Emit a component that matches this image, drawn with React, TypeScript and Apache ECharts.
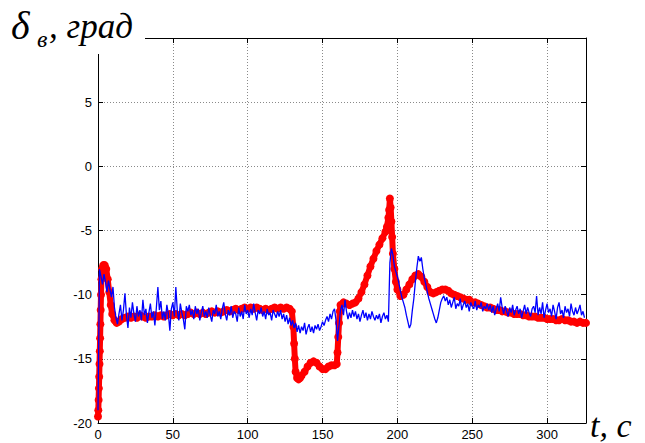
import React, { useEffect, useRef } from 'react';
import * as echarts from 'echarts';

// Blue series: sampled every 1 s starting at t = 0
const BLUE_START = 0;
const BLUE_STEP = 1;
const blueValues: number[] = [
  -19.0, -8.0, -8.6, -9.2, -8.4, -9.0, -9.8, -8.9, -9.6, -10.2,
  -9.4, -11.0, -11.8, -12.3, -11.5, -10.8, -12.0, -11.2, -9.9, -11.6,
  -12.6, -11.0, -11.8, -10.6, -11.5, -12.1, -10.9, -11.7, -11.2, -12.0,
  -10.4, -11.6, -11.1, -12.2, -11.4, -10.7, -11.8, -11.3, -12.4, -11.0,
  -9.4, -11.2, -10.5, -11.9, -11.3, -12.0, -10.8, -11.5, -12.8, -11.1,
  -10.6, -11.7, -9.4, -11.3, -12.0, -10.7, -11.4, -11.9, -12.7, -10.9,
  -11.3, -10.8, -11.6, -11.2, -11.9, -10.9, -11.5, -11.1, -12.0, -11.4,
  -10.9, -11.7, -11.3, -11.8, -11.0, -11.6, -12.1, -11.2, -11.5, -10.8,
  -11.7, -11.3, -11.9, -11.1, -10.6, -11.5, -12.0, -11.2, -11.6, -10.9,
  -11.8, -11.3, -11.5, -12.1, -11.0, -11.7, -11.3, -11.9, -10.8, -11.5,
  -11.2, -11.8, -11.1, -11.6, -10.7, -11.4, -12.0, -11.2, -11.5, -11.0,
  -11.7, -11.3, -11.9, -11.1, -11.6, -11.4, -12.0, -11.2, -11.5, -11.8,
  -11.3, -11.7, -11.2, -11.9, -11.5, -12.1, -11.6, -12.3, -11.8, -12.4,
  -12.0, -12.6, -12.2, -12.9, -12.4, -13.0, -12.5, -12.8, -12.2, -13.1,
  -12.6, -12.3, -12.9, -12.5, -13.0, -12.4, -12.7, -12.3, -12.8, -12.5,
  -12.1, -12.4, -12.0, -11.7, -12.1, -11.5, -11.9, -11.3, -11.1, -12.0,
  -13.6, -12.4, -11.2, -10.8, -11.6, -10.4, -11.3, -11.9, -11.4, -11.8,
  -11.2, -11.7, -11.3, -11.9, -11.5, -12.1, -11.6, -11.2, -11.8, -11.4,
  -12.0, -11.5, -11.9, -11.3, -11.7, -12.0, -11.6, -11.9, -11.5, -12.2,
  -11.7, -11.4, -11.9, -11.6, -12.1, -7.5, -6.4, -6.9, -7.8, -8.2,
  -8.6, -9.1, -9.7, -10.2, -10.6, -11.0, -11.6, -12.1, -12.6, -12.3,
  -11.2, -10.3, -9.0, -7.9, -7.0, -7.4, -7.1, -8.0, -8.7, -9.2,
  -9.8, -10.3, -10.7, -11.1, -11.5, -11.9, -12.2, -11.8, -11.2, -10.6,
  -10.3, -10.1, -10.5, -10.2, -10.8, -10.4, -11.0, -10.6, -10.2, -11.1,
  -10.7, -10.9, -10.3, -11.2, -10.8, -10.5, -11.0, -10.7, -11.3, -10.6,
  -10.9, -11.1, -10.5, -11.2, -10.8, -11.0, -10.6, -11.3, -10.9, -11.1,
  -10.7, -11.2, -10.8, -11.4, -10.9, -11.6, -11.1, -10.7, -11.3, -10.2,
  -11.0, -11.5, -10.9, -11.3, -11.7, -11.0, -11.4, -10.8, -11.6, -11.2,
  -10.9, -11.5, -11.1, -11.8, -11.3, -10.8, -11.5, -11.0, -11.4, -11.7,
  -11.1, -10.9, -11.4, -10.1, -11.6, -11.0, -11.5, -10.6, -11.8, -11.2,
  -10.7, -11.4, -11.1, -11.7, -10.8, -11.3, -11.9, -11.0, -10.6, -11.5,
  -11.2, -11.8, -10.9, -11.4, -11.1, -11.7, -10.7, -11.3, -11.6, -11.0,
  -11.5, -11.2, -10.8, -11.6, -11.3, -11.8,
];

// Red series: time stamps (s) and values (deg)
const redTimes: number[] = [
  0, 0.2, 0.4, 0.6, 0.8, 1, 1.2, 1.4, 1.6, 1.8,
  2, 2.3, 2.7, 3.5, 4.5, 5.5, 6.5, 7.5, 8.5, 9.5,
  11, 12.5, 14, 16, 18, 20, 22, 24, 26, 28,
  30, 32, 34, 36, 38, 40, 42, 44, 46, 48,
  50, 52, 54, 56, 58, 60, 62, 64, 66, 68,
  70, 72, 74, 76, 78, 80, 82, 84, 86, 88,
  90, 92, 94, 96, 98, 100, 102, 104, 106, 108,
  110, 112, 114, 116, 118, 120, 122, 124, 126, 128,
  129.5, 130.5, 131, 131.5, 132, 133, 134, 135, 136, 138,
  140, 142, 144, 146, 148, 150, 152, 154, 156, 158,
  159.5, 160, 160.5, 161, 161.5, 162, 164, 166, 168, 170,
  172, 174, 176, 178, 180, 182, 184, 186, 188, 190,
  192, 193, 194, 194.5, 195, 195.5, 196, 196.5, 197, 198,
  199, 200, 202, 204, 206, 208, 210, 212, 214, 216,
  218, 220, 222, 224, 226, 228, 230, 232, 234, 236,
  238, 240, 242, 244, 246, 248, 250, 252, 254, 256,
  258, 260, 262, 264, 266, 268, 270, 272, 274, 276,
  278, 280, 282, 284, 286, 288, 290, 292, 294, 296,
  298, 300, 302, 304, 306, 308, 310, 312, 314, 316,
  318, 320, 322, 324, 326,
];
const redValues: number[] = [
  -19.5, -19, -18.2, -17.3, -16.4, -15.4, -14.4, -13.4, -12.3, -11.2,
  -10, -8.8, -8.0, -7.7, -7.7, -8.0, -8.8, -9.8, -10.8, -11.5,
  -12.0, -12.2, -12.1, -11.9, -11.8, -11.7, -11.8, -11.7, -11.8, -11.6,
  -11.7, -11.8, -11.7, -11.7, -11.6, -11.7, -11.6, -11.7, -11.6, -11.5,
  -11.6, -11.5, -11.6, -11.5, -11.6, -11.5, -11.4, -11.5, -11.4, -11.5,
  -11.4, -11.5, -11.4, -11.3, -11.4, -11.3, -11.4, -11.3, -11.2, -11.3,
  -11.2, -11.1, -11.2, -11.1, -11.0, -11.1, -11.0, -11.1, -11.0, -11.1,
  -11.2, -11.1, -11.2, -11.1, -11.0, -11.1, -11.0, -11.1, -11.0, -11.1,
  -11.3, -12.5, -13.8, -15, -16, -16.5, -16.6, -16.5, -16.3, -16.0,
  -15.6, -15.3, -15.2, -15.3, -15.6, -15.8, -15.8, -15.6, -15.5, -15.5,
  -15.4, -14.5, -13.3, -12.2, -11.3, -10.8, -10.6, -10.7, -10.8, -10.7,
  -10.6, -10.3, -9.8, -9.2, -8.5, -7.8, -7.2, -6.6, -6.1, -5.6,
  -5.1, -4.7, -4.0, -3.4, -2.5, -3.2, -4.3, -5.5, -6.8, -8.0,
  -9.0, -9.6, -10.1, -10.0, -9.6, -9.2, -8.8, -8.5, -8.4, -8.6,
  -9.0, -9.4, -9.8, -9.9, -9.8, -9.7, -9.6, -9.6, -9.7, -9.9,
  -10.0, -10.1, -10.2, -10.3, -10.4, -10.4, -10.6, -10.6, -10.7, -10.8,
  -10.9, -11.0, -11.0, -11.1, -11.2, -11.2, -11.3, -11.3, -11.4, -11.4,
  -11.5, -11.5, -11.5, -11.6, -11.6, -11.7, -11.7, -11.7, -11.8, -11.8,
  -11.8, -11.9, -11.9, -11.9, -12.0, -12.0, -11.9, -12.0, -12.0, -12.1,
  -12.1, -12.2, -12.1, -12.2, -12.2,
];

const X_MIN = 0;
const X_MAX = 326;
const X_INTERVAL = 50;
const Y_MIN = -20;
const Y_MAX = 10;
const Y_INTERVAL = 5;

const yAxisTitle = ['δ', 'в', ', град'];
const xAxisTitle = 't, c';

export default function App() {
  const ref = useRef<HTMLDivElement>(null);
  useEffect(() => {
    const chart = echarts.init(ref.current!, null, { renderer: 'svg' });
    const blueData = blueValues.map((v, i) => [BLUE_START + i * BLUE_STEP, v]);
    const redData = redTimes.map((t, i) => [t, redValues[i]]);
    const labelFont = { color: '#000', fontFamily: 'Liberation Sans, Arial', fontSize: 13 };
    const gridLine = { show: true, lineStyle: { color: '#8a8a8a', type: [1, 2], width: 1 } };
    const axisLine = { show: true, onZero: false, lineStyle: { color: '#000', width: 1 } };
    const tick = { show: true, inside: true, length: 5, lineStyle: { color: '#000' } };
    const serif = 'Liberation Serif, Times New Roman, serif';
    chart.setOption({
      animation: false,
      backgroundColor: '#fff',
      grid: { left: 98, right: 59, top: 38, bottom: 20, containLabel: false },
      xAxis: [
        {
          type: 'value', min: X_MIN, max: X_MAX, interval: X_INTERVAL, position: 'bottom',
          axisLine, axisTick: tick, splitLine: gridLine,
          axisLabel: { ...labelFont, margin: 5, showMaxLabel: false },
        },
        {
          type: 'value', min: X_MIN, max: X_MAX, interval: X_INTERVAL, position: 'top',
          axisLine, axisTick: tick, splitLine: { show: false }, axisLabel: { show: false },
        },
      ],
      yAxis: [
        {
          type: 'value', min: Y_MIN, max: Y_MAX, interval: Y_INTERVAL, position: 'left',
          axisLine, axisTick: tick, splitLine: gridLine,
          axisLabel: { ...labelFont, margin: 6, formatter: (v: number) => (v === Y_MAX ? '' : String(v)) },
        },
        {
          type: 'value', min: Y_MIN, max: Y_MAX, interval: Y_INTERVAL, position: 'right',
          axisLine, axisTick: tick, splitLine: { show: false }, axisLabel: { show: false },
        },
      ],
      series: [
        {
          type: 'line', data: redData, xAxisIndex: 0, yAxisIndex: 0,
          showSymbol: true, symbol: 'circle', symbolSize: 8,
          lineStyle: { color: '#ff0000', width: 6 },
          itemStyle: { color: '#ff0000', borderWidth: 0 },
          z: 2,
        },
        {
          type: 'line', data: blueData, xAxisIndex: 0, yAxisIndex: 0,
          showSymbol: false, symbol: 'none',
          lineStyle: { color: '#0000ff', width: 1.3 },
          z: 3,
        },
      ],
      graphic: [
        { type: 'rect', left: 0, top: 0, shape: { width: 145, height: 54 }, style: { fill: '#fff' }, z: 100 },
        { type: 'text', x: 11, y: 25, z: 101, style: { text: yAxisTitle[0], font: `italic 40px ${serif}`, fill: '#000', verticalAlign: 'middle' } },
        { type: 'text', x: 37, y: 39, z: 101, style: { text: yAxisTitle[1], font: `italic 24px ${serif}`, fill: '#000', verticalAlign: 'middle' } },
        { type: 'text', x: 49, y: 26, z: 101, style: { text: yAxisTitle[2], font: `italic 35px ${serif}`, fill: '#000', verticalAlign: 'middle' } },
        { type: 'text', x: 590, y: 425, z: 101, style: { text: xAxisTitle, font: `italic 34px ${serif}`, fill: '#000', verticalAlign: 'middle' } },
      ],
    });
    return () => chart.dispose();
  }, []);
  return (
    <div
      ref={ref}
      style={{ position: 'fixed', left: 0, top: 0, width: 645, height: 443, background: '#fff' }}
    />
  );
}
